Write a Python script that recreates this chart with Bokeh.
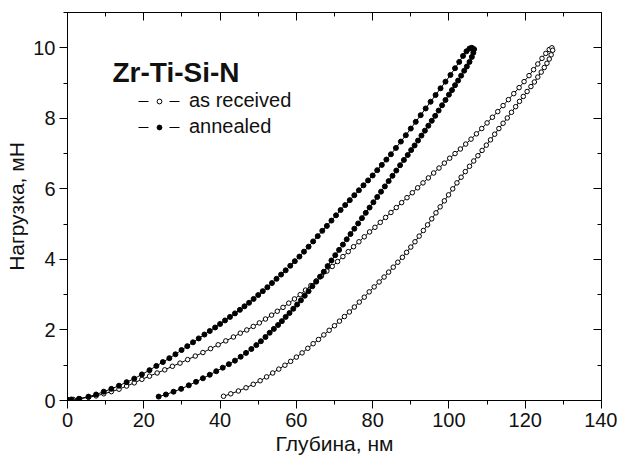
from bokeh.plotting import figure
from bokeh.models import (Range1d, LinearAxis, SingleIntervalTicker, Label,
                          Legend, LegendItem, ColumnDataSource, CustomLabelingPolicy)
from bokeh.embed import file_html
from bokeh.resources import INLINE

# ---------------- data ----------------
# as received : loading branch
recv_load_depth = [0.0, 1.5, 3.2, 5.5, 7.5, 9.5, 11.5, 13.5, 15.5, 17.5, 19.5, 21.5, 23.5, 25.5,
                   27.5, 29.5, 31.5, 33.5, 35.5, 37.5, 39.5, 41.5, 43.5, 45.3, 47.0, 48.7, 50.3,
                   51.9, 53.5, 55.0, 56.5, 58.0, 59.5, 61.0, 62.4, 63.8, 65.2, 66.6, 68.0, 69.4,
                   70.8, 72.2, 73.6, 75.0, 76.4, 77.8, 79.2, 80.6, 82.0, 83.4, 84.8, 86.2, 87.6,
                   89.0, 90.4, 91.8, 93.2, 94.6, 96.0, 97.4, 98.8, 100.2, 101.6, 103.0, 104.4,
                   105.8, 107.2, 108.6, 110.0, 111.4, 112.8, 114.2, 115.6, 117.0, 118.4, 119.7,
                   121.0, 122.2, 123.3, 124.4, 125.4, 126.3, 127.0]
recv_load_force = [0.02, 0.03, 0.05, 0.09, 0.13, 0.19, 0.25, 0.32, 0.41, 0.50, 0.60, 0.69, 0.78, 0.87,
                   0.97, 1.06, 1.16, 1.26, 1.36, 1.47, 1.58, 1.69, 1.80, 1.91, 2.00, 2.10, 2.20,
                   2.31, 2.42, 2.53, 2.64, 2.76, 2.88, 3.00, 3.13, 3.26, 3.39, 3.53, 3.67, 3.80,
                   3.94, 4.08, 4.22, 4.36, 4.50, 4.64, 4.78, 4.91, 5.05, 5.19, 5.33, 5.47, 5.61,
                   5.75, 5.89, 6.03, 6.17, 6.31, 6.45, 6.59, 6.73, 6.87, 7.00, 7.13, 7.27,
                   7.41, 7.56, 7.71, 7.87, 8.03, 8.19, 8.36, 8.53, 8.70, 8.87, 9.04,
                   9.21, 9.38, 9.54, 9.70, 9.84, 9.95, 10.00]
# as received : unloading branch
recv_unload_depth = [127.2, 126.8, 126.3, 125.7, 125.0, 124.2, 123.3, 122.4, 121.5, 120.5, 119.5,
                     118.5, 117.5, 116.4, 115.3, 114.2, 113.1, 112.0, 110.9, 109.8, 108.7, 107.6,
                     106.5, 105.4, 104.3, 103.2, 102.1, 101.0, 99.9, 98.8, 97.7, 96.6, 95.5, 94.4,
                     93.3, 92.2, 91.1, 90.0, 88.9, 87.8, 86.6, 85.4, 84.2, 83.0, 81.7, 80.4, 79.1,
                     77.8, 76.5, 75.2, 73.9, 72.6, 71.3, 70.0, 68.6, 67.2, 65.8, 64.4, 63.0, 61.5,
                     60.0, 58.5, 57.0, 55.4, 53.8, 52.2, 50.5, 48.7, 46.8, 44.8, 42.8, 40.9]
recv_unload_force = [9.93, 9.80, 9.68, 9.56, 9.44, 9.31, 9.17, 9.03, 8.90, 8.76, 8.62,
                     8.48, 8.33, 8.17, 8.01, 7.86, 7.71, 7.55, 7.39, 7.24, 7.09, 6.94,
                     6.79, 6.64, 6.49, 6.33, 6.17, 6.00, 5.83, 5.66, 5.49, 5.32, 5.15, 4.98,
                     4.82, 4.66, 4.50, 4.35, 4.20, 4.06, 3.92, 3.78, 3.64, 3.50, 3.36, 3.22, 3.08,
                     2.93, 2.79, 2.65, 2.51, 2.38, 2.25, 2.12, 1.99, 1.86, 1.73, 1.61, 1.48, 1.35,
                     1.23, 1.11, 1.00, 0.89, 0.78, 0.67, 0.56, 0.46, 0.36, 0.27, 0.19, 0.12]
# annealed : loading branch
ann_load_depth = [0.0, 1.0, 3.0, 5.5, 7.5, 9.5, 11.5, 13.5, 15.5, 17.5, 19.5, 21.5, 23.3, 25.0,
                  26.7, 28.3, 29.9, 31.4, 32.9, 34.4, 35.9, 37.3, 38.7, 40.0, 41.3, 42.6, 43.9,
                  45.2, 46.4, 47.6, 48.8, 50.0, 51.2, 52.4, 53.6, 54.8, 56.0, 57.2, 58.4, 59.6,
                  60.8, 62.0, 63.2, 64.4, 65.6, 66.8, 68.0, 69.2, 70.4, 71.6, 72.8, 74.0, 75.2,
                  76.4, 77.6, 78.8, 80.0, 81.2, 82.4, 83.6, 84.8, 86.1, 87.4, 88.7, 90.0, 91.3,
                  92.6, 93.9, 95.2, 96.5, 97.8, 99.1, 100.4, 101.6, 102.7, 103.7, 104.6, 105.4,
                  106.0]
ann_load_force = [0.02, 0.03, 0.05, 0.11, 0.17, 0.25, 0.33, 0.42, 0.52, 0.62, 0.74, 0.86, 0.98, 1.09,
                  1.20, 1.31, 1.43, 1.54, 1.65, 1.76, 1.87, 1.97, 2.07, 2.17, 2.27, 2.37, 2.47,
                  2.57, 2.67, 2.77, 2.88, 2.99, 3.10, 3.21, 3.33, 3.45, 3.57, 3.69, 3.82, 3.95,
                  4.08, 4.22, 4.36, 4.51, 4.66, 4.81, 4.95, 5.10, 5.25, 5.40, 5.54, 5.68, 5.82,
                  5.96, 6.10, 6.24, 6.38, 6.53, 6.68, 6.83, 6.98, 7.16, 7.34, 7.52, 7.71, 7.90,
                  8.09, 8.28, 8.47, 8.66, 8.85, 9.04, 9.23, 9.42, 9.60, 9.77, 9.90, 9.98,
                  10.00]
# annealed : unloading branch
ann_unload_depth = [106.6, 106.4, 106.0, 105.4, 104.7, 104.0, 103.2, 102.4, 101.6, 100.8, 100.0,
                    99.1, 98.2, 97.3, 96.4, 95.5, 94.6, 93.7, 92.8, 91.9, 91.0, 90.1, 89.2, 88.2,
                    87.2, 86.2, 85.2, 84.2, 83.2, 82.2, 81.2, 80.2, 79.2, 78.2, 77.2, 76.2, 75.2,
                    74.2, 73.2, 72.2, 71.2, 70.2, 69.2, 68.2, 67.2, 66.2, 65.2, 64.2, 63.2, 62.2,
                    61.2, 60.2, 59.2, 58.2, 57.2, 56.2, 55.2, 54.1, 53.0, 51.9, 50.7, 49.5, 48.2,
                    46.8, 45.4, 43.9, 42.3, 40.7, 39.0, 37.3, 35.5, 33.7, 31.8, 29.8, 27.8, 25.8,
                    23.9]
ann_unload_force = [9.96, 9.86, 9.74, 9.60, 9.47, 9.35, 9.21, 9.07, 8.94, 8.80, 8.67,
                    8.52, 8.37, 8.22, 8.07, 7.93, 7.79, 7.65, 7.51, 7.37, 7.23, 7.10, 6.96, 6.82,
                    6.67, 6.52, 6.37, 6.22, 6.07, 5.92, 5.77, 5.62, 5.47, 5.32, 5.17, 5.02, 4.87,
                    4.72, 4.57, 4.42, 4.27, 4.12, 3.97, 3.81, 3.65, 3.51, 3.37, 3.24, 3.10, 2.97,
                    2.84, 2.72, 2.60, 2.48, 2.37, 2.25, 2.14, 2.03, 1.92, 1.80, 1.68, 1.57, 1.46,
                    1.35, 1.24, 1.13, 1.03, 0.93, 0.83, 0.73, 0.63, 0.53, 0.43, 0.33, 0.25, 0.17,
                    0.11]

series_labels = ["as received", "annealed"]
title_text = "Zr-Ti-Si-N"
x_label = "Глубина, нм"
y_label = "Нагрузка, мН"

FONT = "Liberation Sans"
TXT = "#111111"

# ---------------- figure ----------------
p = figure(width=617, height=457, output_backend="svg", toolbar_location=None,
           x_range=Range1d(0, 140), y_range=Range1d(0, 11),
           min_border_left=67, min_border_right=16, min_border_top=12, min_border_bottom=54,
           background_fill_color="white", border_fill_color="white")
p.grid.visible = False
p.outline_line_color = "black"
p.outline_line_width = 1

def style_axis(ax, interval, inside):
    ax.ticker = SingleIntervalTicker(interval=interval, num_minor_ticks=2)
    ax.axis_line_color = "black"
    ax.major_tick_line_color = "black"
    ax.minor_tick_line_color = "black"
    if inside:
        ax.major_tick_in, ax.major_tick_out = 8, 0
        ax.minor_tick_in, ax.minor_tick_out = 4, 0
        ax.major_label_policy = CustomLabelingPolicy(code="return new Set()")
        ax.major_label_standoff = 0
    else:
        ax.major_tick_in, ax.major_tick_out = 0, 8
        ax.minor_tick_in, ax.minor_tick_out = 0, 4
        ax.major_label_text_font = FONT
        ax.major_label_text_font_size = "20px"
        ax.major_label_text_color = TXT
        ax.major_label_standoff = 4
        ax.axis_label_text_font = FONT
        ax.axis_label_text_font_size = "21px"
        ax.axis_label_text_font_style = "normal"
        ax.axis_label_text_color = TXT
        ax.axis_label_standoff = 2

style_axis(p.xaxis[0], 20, False)
style_axis(p.yaxis[0], 2, False)
p.xaxis[0].axis_label = x_label
p.yaxis[0].axis_label = y_label
top_ax = LinearAxis()
style_axis(top_ax, 20, True)
p.add_layout(top_ax, "above")
right_ax = LinearAxis()
style_axis(right_ax, 2, True)
p.add_layout(right_ax, "right")

# ---------------- series ----------------
recv_src = ColumnDataSource(dict(x=recv_load_depth + recv_unload_depth,
                                 y=recv_load_force + recv_unload_force))
ann_src = ColumnDataSource(dict(x=ann_load_depth + ann_unload_depth,
                                y=ann_load_force + ann_unload_force))

p.line("x", "y", source=recv_src, line_color="black", line_width=1)
p.scatter("x", "y", source=recv_src, marker="circle", size=4.5,
          fill_color="white", line_color="black", line_width=1)
p.line("x", "y", source=ann_src, line_color="black", line_width=1)
p.scatter("x", "y", source=ann_src, marker="circle", size=5,
          fill_color="black", line_color="black", line_width=1)

# hidden copies used only for the legend symbols ("— o —")
lg_line1 = p.line("x", "y", source=recv_src, line_color="black", line_width=1,
                  line_dash="10 21", visible=False)
lg_mk1 = p.scatter("x", "y", source=recv_src, marker="circle", fill_color="white",
                   line_color="black", line_width=1, visible=False)
lg_line2 = p.line("x", "y", source=ann_src, line_color="black", line_width=1,
                  line_dash="10 21", visible=False)
lg_mk2 = p.scatter("x", "y", source=ann_src, marker="circle", fill_color="black",
                   line_color="black", line_width=1, visible=False)

legend = Legend(items=[LegendItem(label=series_labels[0], renderers=[lg_line1, lg_mk1]),
                       LegendItem(label=series_labels[1], renderers=[lg_line2, lg_mk2])],
                location=(71, 262), glyph_width=42, glyph_height=12,
                label_text_font=FONT, label_text_font_size="20px", label_text_color=TXT,
                label_standoff=9, spacing=3, padding=0, margin=0,
                border_line_alpha=0, background_fill_alpha=0, inactive_fill_alpha=0)
p.add_layout(legend, "center")

# ---------------- title text ----------------
p.add_layout(Label(x=11.8, y=9.29, text=title_text, text_font=FONT, text_font_size="28px",
                   text_font_style="bold", text_color=TXT, text_baseline="alphabetic"))

open("out.html", "w").write(file_html(p, INLINE))
